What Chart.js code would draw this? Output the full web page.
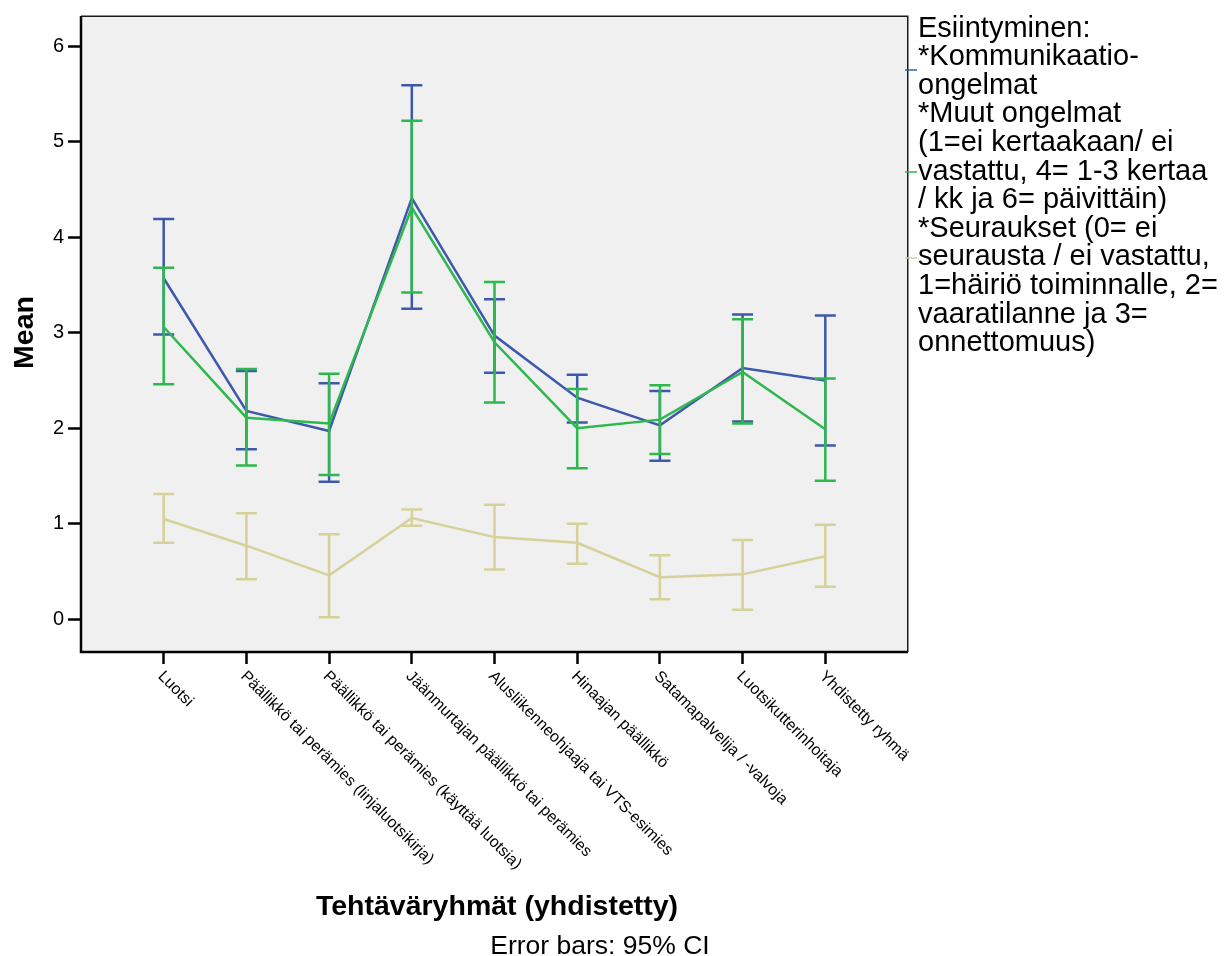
<!DOCTYPE html>
<html><head><meta charset="utf-8">
<script src="https://cdn.jsdelivr.net/npm/chart.js@4"></script>
<style>html,body{margin:0;padding:0;background:#fff;overflow:hidden}#wrap{width:1231px;height:956px;position:relative}</style>
</head><body><div id="wrap"><canvas id="c" width="1231" height="956"></canvas></div>
<script>
// ---- data ----
const categories = ["Luotsi", "Päällikkö tai perämies (linjaluotsikirja)", "Päällikkö tai perämies (käyttää luotsia)", "Jäänmurtajan päällikkö tai perämies", "Alusliikenneohjaaja tai VTS-esimies", "Hinaajan päällikkö", "Satamapalvelija / -valvoja", "Luotsikutterinhoitaja", "Yhdistetty ryhmä"];
const commMean  = [3.57, 2.18, 1.97, 4.41, 2.97, 2.32, 2.03, 2.63, 2.50];
const commLow   = [2.98, 1.78, 1.44, 3.25, 2.58, 2.06, 1.66, 2.07, 1.82];
const commHigh  = [4.19, 2.60, 2.47, 5.59, 3.35, 2.56, 2.39, 3.19, 3.18];
const otherMean = [3.06, 2.11, 2.05, 4.31, 2.90, 2.00, 2.09, 2.59, 1.99];
const otherLow  = [2.46, 1.61, 1.51, 3.42, 2.27, 1.58, 1.73, 2.05, 1.45];
const otherHigh = [3.68, 2.62, 2.57, 5.22, 3.53, 2.41, 2.45, 3.14, 2.52];
const consMean  = [1.05, 0.77, 0.46, 1.06, 0.86, 0.80, 0.44, 0.47, 0.66];
const consLow   = [0.80, 0.42, 0.02, 0.98, 0.52, 0.58, 0.21, 0.10, 0.34];
const consHigh  = [1.31, 1.11, 0.89, 1.15, 1.20, 1.00, 0.67, 0.83, 0.99];
const yTicks = [0, 1, 2, 3, 4, 5, 6];
const seriesNames = ["Kommunikaatio-ongelmat", "Muut ongelmat", "Seuraukset"];
const legendLines = ["Esiintyminen:", "*Kommunikaatio-", "ongelmat", "*Muut ongelmat", "(1=ei kertaakaan/ ei", "vastattu, 4= 1-3 kertaa", "/ kk ja 6= päivittäin)", "*Seuraukset (0= ei", "seurausta / ei vastattu,", "1=häiriö toiminnalle, 2=", "vaaratilanne ja 3=", "onnettomuus)"];
const xTitle = "Tehtäväryhmät (yhdistetty)";
const yTitle = "Mean";
const note = "Error bars: 95% CI";

// ---- style ----
const BLUE = '#3e58ac', GREEN = '#2db84d', BEIGE = '#d6d198';
const FONT = '"Liberation Sans", Arial, sans-serif';
const markerY = [70, 172, 258];

const toPts = arr => arr.map((v, i) => ({x: i + 1, y: v}));

const datasets = [
  {label: seriesNames[0], data: toPts(commMean), low: commLow, high: commHigh, borderColor: BLUE, order: 3},
  {label: seriesNames[1], data: toPts(otherMean), low: otherLow, high: otherHigh, borderColor: GREEN, order: 2},
  {label: seriesNames[2], data: toPts(consMean), low: consLow, high: consHigh, borderColor: BEIGE, order: 1}
].map(d => Object.assign(d, {borderWidth: 2.5, pointRadius: 0, tension: 0, fill: false}));

const decor = {
  id: 'decor',
  beforeDraw(chart) {
    const {ctx, chartArea: a} = chart;
    ctx.save();
    ctx.fillStyle = '#fff';
    ctx.fillRect(0, 0, chart.width, chart.height);
    ctx.fillStyle = '#f0f0f0';
    ctx.fillRect(a.left, a.top, a.right - a.left, a.bottom - a.top);
    ctx.restore();
  },
  afterDatasetDraw(chart, args) {
    const ds = chart.data.datasets[args.index];
    const xs = chart.scales.x, ys = chart.scales.y;
    const ctx = chart.ctx;
    ctx.save();
    ctx.strokeStyle = ds.borderColor;
    ctx.lineWidth = 2.5;
    ds.data.forEach((p, i) => {
      const x = xs.getPixelForValue(p.x);
      const yl = ys.getPixelForValue(ds.low[i]);
      const yh = ys.getPixelForValue(ds.high[i]);
      ctx.beginPath();
      ctx.moveTo(x, yl); ctx.lineTo(x, yh);
      ctx.moveTo(x - 10.5, yl); ctx.lineTo(x + 10.5, yl);
      ctx.moveTo(x - 10.5, yh); ctx.lineTo(x + 10.5, yh);
      ctx.stroke();
    });
    ctx.restore();
  },
  afterDraw(chart) {
    const {ctx, chartArea: a} = chart;
    const xs = chart.scales.x;
    ctx.save();
    // frame
    ctx.strokeStyle = '#1a1a1a';
    ctx.lineWidth = 1.5;
    ctx.beginPath();
    ctx.moveTo(a.left, a.top + 0.25); ctx.lineTo(a.right - 0.25, a.top + 0.25); ctx.lineTo(a.right - 0.25, a.bottom);
    ctx.stroke();
    ctx.strokeStyle = '#000';
    ctx.lineWidth = 2.5;
    ctx.beginPath();
    ctx.moveTo(a.left, a.top); ctx.lineTo(a.left, a.bottom); ctx.lineTo(a.right, a.bottom);
    ctx.stroke();
    // x tick labels
    ctx.fillStyle = '#000';
    ctx.font = '16px ' + FONT;
    ctx.textAlign = 'left';
    ctx.textBaseline = 'alphabetic';
    categories.forEach((c, i) => {
      const x = xs.getPixelForValue(i + 1);
      ctx.save();
      ctx.translate(x - 6.5, 677);
      ctx.rotate(Math.PI / 4);
      ctx.fillText(c, 0, 0);
      ctx.restore();
    });
    // axis titles
    ctx.font = 'bold 28.5px ' + FONT;
    ctx.textAlign = 'center';
    ctx.fillText(xTitle, 497, 915);
    ctx.save();
    ctx.translate(33.3, 332.5);
    ctx.rotate(-Math.PI / 2);
    ctx.fillText(yTitle, 0, 0);
    ctx.restore();
    ctx.font = '26.5px ' + FONT;
    ctx.fillText(note, 600, 954);
    // legend
    ctx.textAlign = 'left';
    ctx.font = '29px ' + FONT;
    legendLines.forEach((t, i) => ctx.fillText(t, 918, 36.5 + i * 28.6));
    ctx.lineWidth = 1.5;
    chart.data.datasets.forEach((d, i) => {
      ctx.strokeStyle = d.borderColor;
      ctx.beginPath();
      ctx.moveTo(905, markerY[i]); ctx.lineTo(917, markerY[i]);
      ctx.stroke();
    });
    ctx.restore();
  }
};

new Chart(document.getElementById('c'), {
  type: 'line',
  data: {datasets},
  options: {
    responsive: false, animation: false, devicePixelRatio: 1,
    layout: {padding: {top: 12, right: 323, left: 0, bottom: 0}},
    plugins: {legend: {display: false}, tooltip: {enabled: false}},
    scales: {
      x: {
        type: 'linear', min: 0, max: 10,
        afterBuildTicks: s => { s.ticks = categories.map((c, i) => ({value: i + 1})); },
        afterFit: s => { s.height = 304; },
        border: {display: false},
        grid: {drawOnChartArea: false, drawTicks: true, tickLength: 12, tickColor: '#000', tickWidth: 2.5},
        ticks: {display: false}
      },
      y: {
        type: 'linear', min: -0.343, max: 6.316,
        afterBuildTicks: s => { s.ticks = yTicks.map(v => ({value: v})); },
        afterFit: s => { s.width = 81; },
        border: {display: false},
        grid: {drawOnChartArea: false, drawTicks: true, tickLength: 13, tickColor: '#000', tickWidth: 2.5},
        ticks: {color: '#000', padding: 4, font: {family: FONT, size: 20}, callback: v => String(v)}
      }
    }
  },
  plugins: [decor]
});
</script></body></html>
